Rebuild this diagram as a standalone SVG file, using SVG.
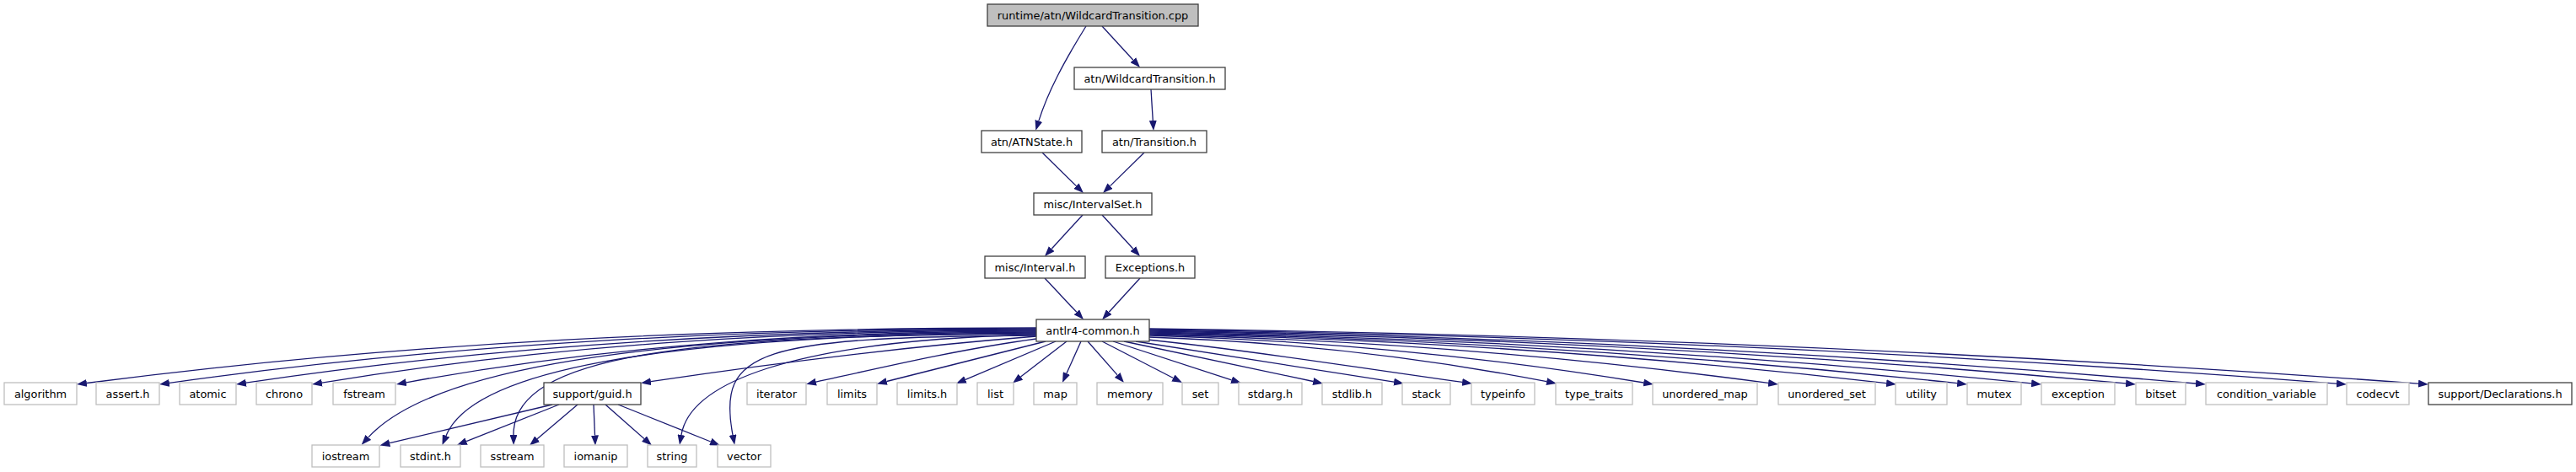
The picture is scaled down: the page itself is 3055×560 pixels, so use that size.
<svg xmlns="http://www.w3.org/2000/svg" width="3055" height="560" viewBox="0 0 3055 560">
<style>
.n rect{fill:#ffffff;stroke:#404040;stroke-width:1.3}
.r rect{fill:#bfbfbf;stroke:#404040;stroke-width:1.3}
.s rect{fill:#ffffff;stroke:#bfbfbf;stroke-width:1.3}
text{font-family:"DejaVu Sans","Liberation Sans",sans-serif;font-size:12.9px;text-anchor:middle;fill:#000000}
#edges path{fill:none;stroke:#191970;stroke-width:1.3;marker-end:url(#ah)}
</style>
<defs>
<marker id="ah" markerUnits="userSpaceOnUse" markerWidth="12" markerHeight="9" viewBox="0 0 12 9" refX="0" refY="4.5" orient="auto">
<path d="M0,0 L12,4.5 L0,9 z" fill="#191970"/>
</marker>
</defs>
<rect width="3055" height="560" fill="#ffffff"/>
<g id="edges">
<path d="M1288,31 C1262,73 1243,108 1231.9,143.4"/>
<path d="M1307,31 L1343.9,71.2"/>
<path d="M1365,106 L1367.3,143"/>
<path d="M1236,181 L1276.4,220.6"/>
<path d="M1357,181 L1316.6,220.6"/>
<path d="M1284,255 L1247.1,295.2"/>
<path d="M1307,255 L1343.9,295.2"/>
<path d="M1239,330 L1276.8,370.3"/>
<path d="M1352,330 L1315.2,370.3"/>
<path d="M1229,389 C853.6,389 478.3,405.6 102.9,454.5"/>
<path d="M1229,390 C886.3,390 543.6,406.3 200.9,454.3"/>
<path d="M1229,391 C916.6,391 604.3,407.4 291.9,454.2"/>
<path d="M1229,392 C946.7,392 664.2,407.8 381.9,454.1"/>
<path d="M1229,393 C980,393 730.8,408.2 481.8,453.8"/>
<path d="M1229,394 C700,396 500,450 436.8,518.9"/>
<path d="M1229,395 C760,398 559,443 529,517"/>
<path d="M1229,396 C820,398 608,420 609,516"/>
<path d="M1229,397 C930,404 818,457 808,516"/>
<path d="M1229,398 C900,400 850,415 869,516"/>
<path d="M1229,399 C1076.6,411.2 924.3,429.8 771.9,452.7"/>
<path d="M1229,402 C1140,414 1050,435 967.8,453.2"/>
<path d="M1240,405 L1051.6,452.5"/>
<path d="M1252,405 L1145,450.3"/>
<path d="M1265,405 L1210.5,447.1"/>
<path d="M1282,405 L1264.9,443"/>
<path d="M1290,405 L1325.1,444.9"/>
<path d="M1307,405 L1391.4,448.5"/>
<path d="M1320,405 L1460.6,450.8"/>
<path d="M1333,405 L1557.3,452.5"/>
<path d="M1347,405 L1653.1,453.1"/>
<path d="M1361,403 C1489,416 1606,436 1734.1,453.4"/>
<path d="M1363,400 C1520.1,405.4 1677.1,422.3 1834.2,452.7"/>
<path d="M1363,398 C1558.4,403.7 1753.8,421.8 1949.2,454"/>
<path d="M1363,397 C1607.7,402.8 1852.4,421.5 2097.1,454.4"/>
<path d="M1363,396 C1654.4,401.9 1945.7,421.1 2237.1,454.6"/>
<path d="M1363,395 C1682.4,401 2001.7,420.6 2321.1,454.7"/>
<path d="M1363,394 C1711.7,400.1 2060.4,420.1 2409.1,454.8"/>
<path d="M1363,393 C1749,399.2 2135.1,419.6 2521.1,454.9"/>
<path d="M1363,392 C1776.7,398.3 2190.3,419.1 2604,455"/>
<path d="M1363,391 C1832.3,397.4 2301.7,418.6 2771,455.1"/>
<path d="M1363,390 C1864.7,396.5 2366.3,418 2868,455.1"/>
<path d="M655,480 L462.1,525.7"/>
<path d="M663,480 L553.1,523.6"/>
<path d="M685,480 L637.1,520.7"/>
<path d="M704,480 L705.5,516.5"/>
<path d="M718,480 L764,520.6"/>
<path d="M733,480 L842.8,524"/>
</g>
<g id="node_cpp" class="r"><rect x="1171" y="5" width="250" height="26"/><text x="1296" y="22.6">runtime/atn/WildcardTransition.cpp</text></g>
<g id="node_wildcard_h" class="n"><rect x="1274" y="80" width="179" height="26"/><text x="1363.5" y="97.6">atn/WildcardTransition.h</text></g>
<g id="node_atnstate" class="n"><rect x="1164" y="155" width="119" height="26"/><text x="1223.5" y="172.6">atn/ATNState.h</text></g>
<g id="node_transition" class="n"><rect x="1307" y="155" width="124" height="26"/><text x="1369" y="172.6">atn/Transition.h</text></g>
<g id="node_intervalset" class="n"><rect x="1226" y="229" width="140" height="26"/><text x="1296" y="246.6">misc/IntervalSet.h</text></g>
<g id="node_interval" class="n"><rect x="1168" y="304" width="119" height="26"/><text x="1227.5" y="321.6">misc/Interval.h</text></g>
<g id="node_exceptions" class="n"><rect x="1311" y="304" width="106" height="26"/><text x="1364" y="321.6">Exceptions.h</text></g>
<g id="node_antlr4common" class="n"><rect x="1229" y="379" width="134" height="26"/><text x="1296" y="396.6">antlr4-common.h</text></g>
<g id="node_algorithm" class="s"><rect x="5" y="454" width="86" height="26"/><text x="48" y="471.6">algorithm</text></g>
<g id="node_assert" class="s"><rect x="114" y="454" width="75" height="26"/><text x="151.5" y="471.6">assert.h</text></g>
<g id="node_atomic" class="s"><rect x="213" y="454" width="67" height="26"/><text x="246.5" y="471.6">atomic</text></g>
<g id="node_chrono" class="s"><rect x="304" y="454" width="66" height="26"/><text x="337" y="471.6">chrono</text></g>
<g id="node_fstream" class="s"><rect x="395" y="454" width="74" height="26"/><text x="432" y="471.6">fstream</text></g>
<g id="node_guid" class="n"><rect x="645" y="454" width="115" height="26"/><text x="702.5" y="471.6">support/guid.h</text></g>
<g id="node_iterator" class="s"><rect x="886" y="454" width="70" height="26"/><text x="921" y="471.6">iterator</text></g>
<g id="node_limits" class="s"><rect x="981" y="454" width="59" height="26"/><text x="1010.5" y="471.6">limits</text></g>
<g id="node_limits_h" class="s"><rect x="1064" y="454" width="71" height="26"/><text x="1099.5" y="471.6">limits.h</text></g>
<g id="node_list" class="s"><rect x="1159" y="454" width="43" height="26"/><text x="1180.5" y="471.6">list</text></g>
<g id="node_map" class="s"><rect x="1226" y="454" width="51" height="26"/><text x="1251.5" y="471.6">map</text></g>
<g id="node_memory" class="s"><rect x="1301" y="454" width="78" height="26"/><text x="1340" y="471.6">memory</text></g>
<g id="node_set" class="s"><rect x="1402" y="454" width="43" height="26"/><text x="1423.5" y="471.6">set</text></g>
<g id="node_stdarg" class="s"><rect x="1469" y="454" width="75" height="26"/><text x="1506.5" y="471.6">stdarg.h</text></g>
<g id="node_stdlib" class="s"><rect x="1568" y="454" width="71" height="26"/><text x="1603.5" y="471.6">stdlib.h</text></g>
<g id="node_stack" class="s"><rect x="1663" y="454" width="57" height="26"/><text x="1691.5" y="471.6">stack</text></g>
<g id="node_typeinfo" class="s"><rect x="1745" y="454" width="75" height="26"/><text x="1782.5" y="471.6">typeinfo</text></g>
<g id="node_type_traits" class="s"><rect x="1845" y="454" width="91" height="26"/><text x="1890.5" y="471.6">type_traits</text></g>
<g id="node_unordered_map" class="s"><rect x="1960" y="454" width="124" height="26"/><text x="2022" y="471.6">unordered_map</text></g>
<g id="node_unordered_set" class="s"><rect x="2109" y="454" width="115" height="26"/><text x="2166.5" y="471.6">unordered_set</text></g>
<g id="node_utility" class="s"><rect x="2248" y="454" width="61" height="26"/><text x="2278.5" y="471.6">utility</text></g>
<g id="node_mutex" class="s"><rect x="2333" y="454" width="64" height="26"/><text x="2365" y="471.6">mutex</text></g>
<g id="node_exception" class="s"><rect x="2421" y="454" width="87" height="26"/><text x="2464.5" y="471.6">exception</text></g>
<g id="node_bitset" class="s"><rect x="2533" y="454" width="59" height="26"/><text x="2562.5" y="471.6">bitset</text></g>
<g id="node_condition_variable" class="s"><rect x="2616" y="454" width="144" height="26"/><text x="2688" y="471.6">condition_variable</text></g>
<g id="node_codecvt" class="s"><rect x="2783" y="454" width="74" height="26"/><text x="2820" y="471.6">codecvt</text></g>
<g id="node_declarations" class="n"><rect x="2880" y="454" width="170" height="26"/><text x="2965" y="471.6">support/Declarations.h</text></g>
<g id="node_iostream" class="s"><rect x="370" y="528" width="80" height="26"/><text x="410" y="545.6">iostream</text></g>
<g id="node_stdint" class="s"><rect x="475" y="528" width="71" height="26"/><text x="510.5" y="545.6">stdint.h</text></g>
<g id="node_sstream" class="s"><rect x="570" y="528" width="75" height="26"/><text x="607.5" y="545.6">sstream</text></g>
<g id="node_iomanip" class="s"><rect x="669" y="528" width="75" height="26"/><text x="706.5" y="545.6">iomanip</text></g>
<g id="node_string" class="s"><rect x="768" y="528" width="58" height="26"/><text x="797" y="545.6">string</text></g>
<g id="node_vector" class="s"><rect x="851" y="528" width="63" height="26"/><text x="882.5" y="545.6">vector</text></g>
</svg>
